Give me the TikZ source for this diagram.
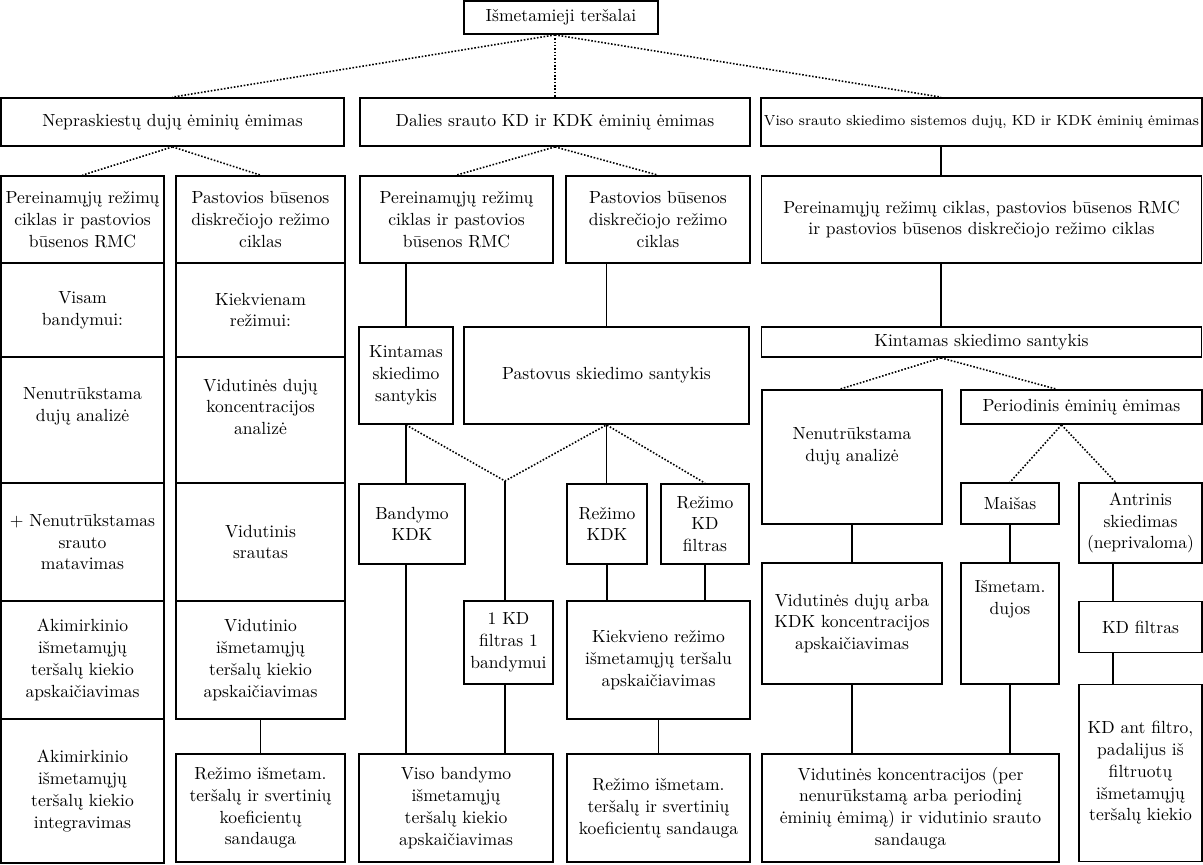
\documentclass[tikz,border=0pt]{standalone}
\usepackage{fontspec}
\usetikzlibrary{positioning,calc}

\begin{document}
\begin{tikzpicture}[
  x=0.02cm, y=-0.02cm,
  blk/.style={draw, line width=1pt, align=center, inner sep=1.5pt,
    font=\fontsize{10}{12.4}\selectfont},
  sz/.style 2 args={minimum width=#1*0.02cm, minimum height=#2*0.02cm},
  link/.style={line width=0.8pt},
  split/.style={line width=0.9pt, densely dotted}
]
  \useasboundingbox (0,0) rectangle (1203,865);

  % Top levels
  \node[blk,sz={194}{33}] (top) at (561,17.5) {Išmetamieji teršalai};
  \node[blk,sz={343}{48}] (A) at (172.5,122) {Nepraskiestų dujų ėminių ėmimas};
  \node[blk,sz={390}{48}] (B) at (555,122) {Dalies srauto KD ir KDK ėminių ėmimas};
  \node[blk,sz={440}{48},font=\fontsize{8.3}{10}\selectfont] (C) at (981.5,122)
    {Viso srauto skiedimo sistemos dujų, KD ir KDK ėminių ėmimas};

  \node[blk,sz={163}{87}] (L1) at (82.5,219.5) {Pereinamųjų režimų\\ciklas ir pastovios\\būsenos RMC};
  \node[blk,sz={169}{87}] (L2) at (260.5,219.5) {Pastovios būsenos\\diskrečiojo režimo\\ciklas};
  \node[blk,sz={193}{87}] (M1) at (456.5,219.5) {Pereinamųjų režimų\\ciklas ir pastovios\\būsenos RMC};
  \node[blk,sz={184}{87}] (M2) at (658,219.5) {Pastovios būsenos\\diskrečiojo režimo\\ciklas};
  \node[blk,sz={440}{87}] (R1) at (981.5,219.5)
    {Pereinamųjų režimų ciklas, pastovios būsenos RMC\\ir pastovios būsenos diskrečiojo režimo ciklas};

  % Undiluted sampling columns
  \node[blk,sz={163}{94}] (LA1) at (82.5,310) {Visam\\bandymui:};
  \node[blk,sz={163}{126},text depth=18pt] (LA2) at (82.5,420) {Nenutrūkstama\\dujų analizė};
  \node[blk,sz={163}{118}] (LA3) at (82.5,542) {+ Nenutrūkstamas\\srauto\\matavimas};
  \node[blk,sz={163}{118}] (LA4) at (82.5,660) {Akimirkinio\\išmetamųjų\\teršalų kiekio\\apskaičiavimas};
  \node[blk,sz={163}{144}] (LA5) at (82.5,791) {Akimirkinio\\išmetamųjų\\teršalų kiekio\\integravimas};
  \node[blk,sz={169}{94}] (LB1) at (260.5,310) {Kiekvienam\\režimui:};
  \node[blk,sz={169}{126},text depth=15pt] (LB2) at (260.5,420) {Vidutinės dujų\\koncentracijos\\analizė};
  \node[blk,sz={169}{118}] (LB3) at (260.5,542) {Vidutinis\\srautas};
  \node[blk,sz={169}{118}] (LB4) at (260.5,660) {Vidutinio\\išmetamųjų\\teršalų kiekio\\apskaičiavimas};
  \node[blk,sz={169}{108}] (LB5) at (260.5,808) {Režimo išmetam.\\teršalų ir svertinių\\koeficientų\\sandauga};

  % Partial flow columns
  \node[blk,sz={94}{97}] (KS) at (406,375.5) {Kintamas\\skiedimo\\santykis};
  \node[blk,sz={285}{97}] (PS) at (606.5,375.5) {Pastovus skiedimo santykis};
  \node[blk,sz={106}{80}] (BK) at (412,524) {Bandymo\\KDK};
  \node[blk,sz={80}{80}] (RK) at (607,524) {Režimo\\KDK};
  \node[blk,sz={88}{80}] (RKD) at (705,524) {Režimo\\KD\\filtras};
  \node[blk,sz={89}{83}] (F1) at (508.5,642.5) {1 KD\\filtras 1\\bandymui};
  \node[blk,sz={183}{118}] (KR) at (658.5,660) {Kiekvieno režimo\\išmetamųjų teršalu\\apskaičiavimas};
  \node[blk,sz={194}{108}] (VB) at (456,808) {Viso bandymo\\išmetamųjų\\teršalų kiekio\\apskaičiavimas};
  \node[blk,sz={183}{108}] (RI2) at (658.5,808) {Režimo išmetam.\\teršalų ir svertinių\\koeficientų sandauga};

  % Full flow columns
  \node[blk,sz={440}{30}] (KSR) at (981.5,342) {Kintamas skiedimo santykis};
  \node[blk,sz={180}{134},text depth=14pt] (NDA) at (852,457) {Nenutrūkstama\\dujų analizė};
  \node[blk,sz={241}{34}] (PER) at (1081.5,407) {Periodinis ėminių ėmimas};
  \node[blk,sz={98}{41}] (MAI) at (1010,503.5) {Maišas};
  \node[blk,sz={123}{80}] (ANT) at (1140.5,523) {Antrinis\\skiedimas\\(neprivaloma)};
  \node[blk,sz={180}{121}] (VDA) at (852,623.5) {Vidutinės dujų arba\\KDK koncentracijos\\apskaičiavimas};
  \node[blk,sz={98}{121},text depth=30pt] (ISM) at (1010,623.5) {Išmetam.\\dujos};
  \node[blk,sz={123}{51}] (KDF) at (1140.5,627) {KD filtras};
  \node[blk,sz={123}{177}] (KAF) at (1140.5,773) {KD ant filtro,\\padalijus iš\\filtruotų\\išmetamųjų\\teršalų kiekio};
  \node[blk,sz={297}{108}] (VK) at (910.5,808) {Vidutinės koncentracijos (per\\nenurūkstamą arba periodinį\\ėminių ėmimą) ir vidutinio srauto\\sandauga};

  % Branches
  \coordinate (spine) at (941,0);
  \coordinate (J) at (B.north |- top.south);
  \draw[split] (J) -- (A.north);
  \draw[split] (J) -- (B.north);
  \draw[split] (J) -- (spine |- C.north);
  \draw[split] (A.south) -- (L1.north);
  \draw[split] (A.south) -- (L2.north);
  \draw[split] (B.south) -- (M1.north);
  \draw[split] (B.south) -- (M2.north);
  \draw[link] (spine |- C.south) -- (spine |- R1.north);
  \draw[link] (LB4.south) -- (LB5.north);

  \draw[link] (KS.north) -- (KS.north |- M1.south);
  \draw[link] (PS.north) -- (PS.north |- M2.south);
  \coordinate (V) at (505,481);
  \draw[split] (KS.south) -- (V) -- (PS.south) -- (RKD.north);
  \draw[link] (KS.south) -- (KS.south |- BK.north);
  \draw[link] (PS.south) -- (PS.south |- RK.north);
  \draw[link] (V) -- (V |- F1.north);
  \draw[link] (KS.south |- BK.south) -- (KS.south |- VB.north);
  \draw[link] (V |- F1.south) -- (V |- VB.north);
  \draw[link] (RK.south) -- (RK.south |- KR.north);
  \draw[link] (RKD.south) -- (RKD.south |- KR.north);
  \draw[link] (KR.south) -- (KR.south |- RI2.north);

  \draw[link] (spine |- R1.south) -- (spine |- KSR.north);
  \draw[split] (spine |- KSR.south) -- ([xshift=-0.24cm]NDA.north);
  \draw[split] (spine |- KSR.south) -- ([xshift=-0.5cm]PER.north);
  \coordinate (P) at ([xshift=-0.4cm]PER.south);
  \draw[split] (P) -- (MAI.north);
  \draw[split] (P) -- ([xshift=-0.5cm]ANT.north);
  \draw[link] (NDA.south) -- (VDA.north);
  \draw[link] (MAI.south) -- (ISM.north);
  \coordinate (K) at ([xshift=-0.55cm]ANT.south);
  \draw[link] (K) -- (K |- KDF.north);
  \draw[link] (K |- KDF.south) -- (K |- KAF.north);
  \draw[link] (VDA.south) -- (VDA.south |- VK.north);
  \draw[link] (ISM.south) -- (ISM.south |- VK.north);
\end{tikzpicture}
\end{document}
